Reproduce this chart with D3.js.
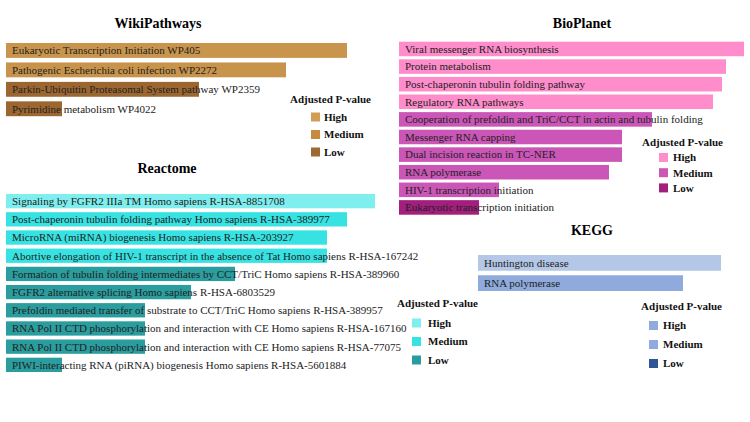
<!DOCTYPE html>
<html>
<head>
<meta charset="utf-8">
<script src="https://cdn.jsdelivr.net/npm/d3@7"></script>
<style>
  html, body { margin: 0; padding: 0; background: #fff; }
  svg { display: block; }
  text { font-family: "Liberation Serif", "Times New Roman", serif; }
</style>
</head>
<body>
<svg id="chart" width="750" height="422"></svg>
<script>
// ---------------- DATA ----------------
const legendLevels = ["High", "Medium", "Low"];

const wikiTerms = [
  "Eukaryotic Transcription Initiation WP405",
  "Pathogenic Escherichia coli infection WP2272",
  "Parkin-Ubiquitin Proteasomal System pathway WP2359",
  "Pyrimidine metabolism WP4022"
];
const wikiScores = [34.1, 28.0, 19.3, 5.6];
const wikiLevels = ["High", "Medium", "Low", "Low"];

const bioTerms = [
  "Viral messenger RNA biosynthesis",
  "Protein metabolism",
  "Post-chaperonin tubulin folding pathway",
  "Regulatory RNA pathways",
  "Cooperation of prefoldin and TriC/CCT in actin and tubulin folding",
  "Messenger RNA capping",
  "Dual incision reaction in TC-NER",
  "RNA polymerase",
  "HIV-1 transcription initiation",
  "Eukaryotic transcription initiation"
];
const bioScores = [34.5, 32.7, 32.3, 31.4, 25.3, 22.3, 22.3, 21.0, 10.0, 8.0];
const bioLevels = ["High", "High", "High", "High", "Medium", "Medium", "Medium", "Medium", "Medium", "Low"];

const reactTerms = [
  "Signaling by FGFR2 IIIa TM Homo sapiens R-HSA-8851708",
  "Post-chaperonin tubulin folding pathway Homo sapiens R-HSA-389977",
  "MicroRNA (miRNA) biogenesis Homo sapiens R-HSA-203927",
  "Abortive elongation of HIV-1 transcript in the absence of Tat Homo sapiens R-HSA-167242",
  "Formation of tubulin folding intermediates by CCT/TriC Homo sapiens R-HSA-389960",
  "FGFR2 alternative splicing Homo sapiens R-HSA-6803529",
  "Prefoldin mediated transfer of substrate to CCT/TriC Homo sapiens R-HSA-389957",
  "RNA Pol II CTD phosphorylation and interaction with CE Homo sapiens R-HSA-167160",
  "RNA Pol II CTD phosphorylation and interaction with CE Homo sapiens R-HSA-77075",
  "PIWI-interacting RNA (piRNA) biogenesis Homo sapiens R-HSA-5601884"
];
const reactScores = [36.9, 34.1, 32.1, 32.1, 22.9, 18.5, 13.9, 13.9, 13.9, 5.6];
const reactLevels = ["High", "Medium", "Medium", "Medium", "Low", "Low", "Low", "Low", "Low", "Low"];

const keggTerms = ["Huntington disease", "RNA polymerase"];
const keggScores = [24.3, 20.5];
const keggLevels = ["High", "Medium"];

// ---------------- STYLES / LAYOUT ----------------
const panels = [
  {
    title: "WikiPathways", titleX: 158, titleY: 28,
    terms: wikiTerms, scores: wikiScores, levels: wikiLevels,
    x0: 6, xMaxPx: 341, yTop: 43, step: 18.3, barH: 14,
    barColors: {High: "#c9954c", Medium: "#c8944b", Low: "#9c6631"},
    legColors: {High: "#cf9d55", Medium: "#c48a3f", Low: "#9c6a33"},
    leg: {titleX: 290, titleY: 103, sqX: 311, textX: 324, y0: 117, dy: 17.5}
  },
  {
    title: "BioPlanet", titleX: 582, titleY: 28,
    terms: bioTerms, scores: bioScores, levels: bioLevels,
    x0: 399, xMaxPx: 345, yTop: 41.7, step: 17.3, barH: 14.3,
    barColors: {High: "#ff8ccb", Medium: "#cb56b7", Low: "#a21f7d"},
    legColors: {High: "#ff8ccb", Medium: "#cb56b7", Low: "#a21f7d"},
    leg: {titleX: 642, titleY: 146, sqX: 659, textX: 673, y0: 157.5, dy: 15.2}
  },
  {
    title: "Reactome", titleX: 167, titleY: 173,
    terms: reactTerms, scores: reactScores, levels: reactLevels,
    x0: 6, xMaxPx: 369, yTop: 194, step: 17.8, barH: 14,
    barColors: {High: "#7eeeee", Medium: "#36e2e2", Low: "#2a9d9e"},
    legColors: {High: "#7eeeee", Medium: "#36e2e2", Low: "#2a9d9e"},
    leg: {titleX: 397, titleY: 307, sqX: 412, textX: 428, y0: 323, dy: 18.5}
  },
  {
    title: "KEGG", titleX: 592, titleY: 235,
    terms: keggTerms, scores: keggScores, levels: keggLevels,
    x0: 478, xMaxPx: 243, yTop: 255, step: 18, barH: 14,
    barColors: {High: "#b4c7e7", Medium: "#8faadc", Low: "#2f5597"},
    legColors: {High: "#8faadc", Medium: "#8eaadf", Low: "#2f5597"},
    leg: {titleX: 641, titleY: 310, sqX: 649, textX: 663, y0: 325.5, dy: 19}
  }
];

const svg = d3.select("#chart");

panels.forEach(p => {
  const g = svg.append("g");
  const x = d3.scaleLinear()
    .domain([0, d3.max(p.scores)])
    .range([p.x0, p.x0 + p.xMaxPx]);
  const n = p.terms.length;
  const y = d3.scaleBand()
    .domain(d3.range(n))
    .range([p.yTop, p.yTop + n * p.step])
    .paddingInner((p.step - p.barH) / p.step)
    .paddingOuter(0)
    .align(0);

  g.append("text")
    .attr("x", p.titleX).attr("y", p.titleY)
    .attr("text-anchor", "middle")
    .attr("font-size", 14).attr("font-weight", "bold")
    .attr("fill", "#000")
    .text(p.title);

  const data = p.terms.map((t, i) => ({t, v: p.scores[i], lvl: p.levels[i], i}));

  g.selectAll("rect.bar").data(data).join("rect")
    .attr("class", "bar")
    .attr("x", x(0))
    .attr("y", d => y(d.i))
    .attr("width", d => x(d.v) - x(0))
    .attr("height", y.bandwidth())
    .attr("fill", d => p.barColors[d.lvl]);

  g.selectAll("text.lab").data(data).join("text")
    .attr("class", "lab")
    .attr("x", x(0) + 6)
    .attr("y", d => y(d.i) + y.bandwidth() / 2)
    .attr("dy", "0.35em")
    .attr("font-size", 11)
    .attr("fill", "#222")
    .text(d => d.t);

  // legend
  const L = p.leg;
  g.append("text")
    .attr("x", L.titleX).attr("y", L.titleY)
    .attr("font-size", 11).attr("font-weight", "bold")
    .attr("fill", "#111")
    .text("Adjusted P-value");
  legendLevels.forEach((lv, k) => {
    const cy = L.y0 + k * L.dy;
    g.append("rect")
      .attr("x", L.sqX).attr("y", cy - 4.5)
      .attr("width", 9).attr("height", 9)
      .attr("fill", p.legColors[lv]);
    g.append("text")
      .attr("x", L.textX).attr("y", cy)
      .attr("dy", "0.35em")
      .attr("font-size", 11).attr("font-weight", "bold")
      .attr("fill", "#111")
      .text(lv);
  });
});
</script>
</body>
</html>
